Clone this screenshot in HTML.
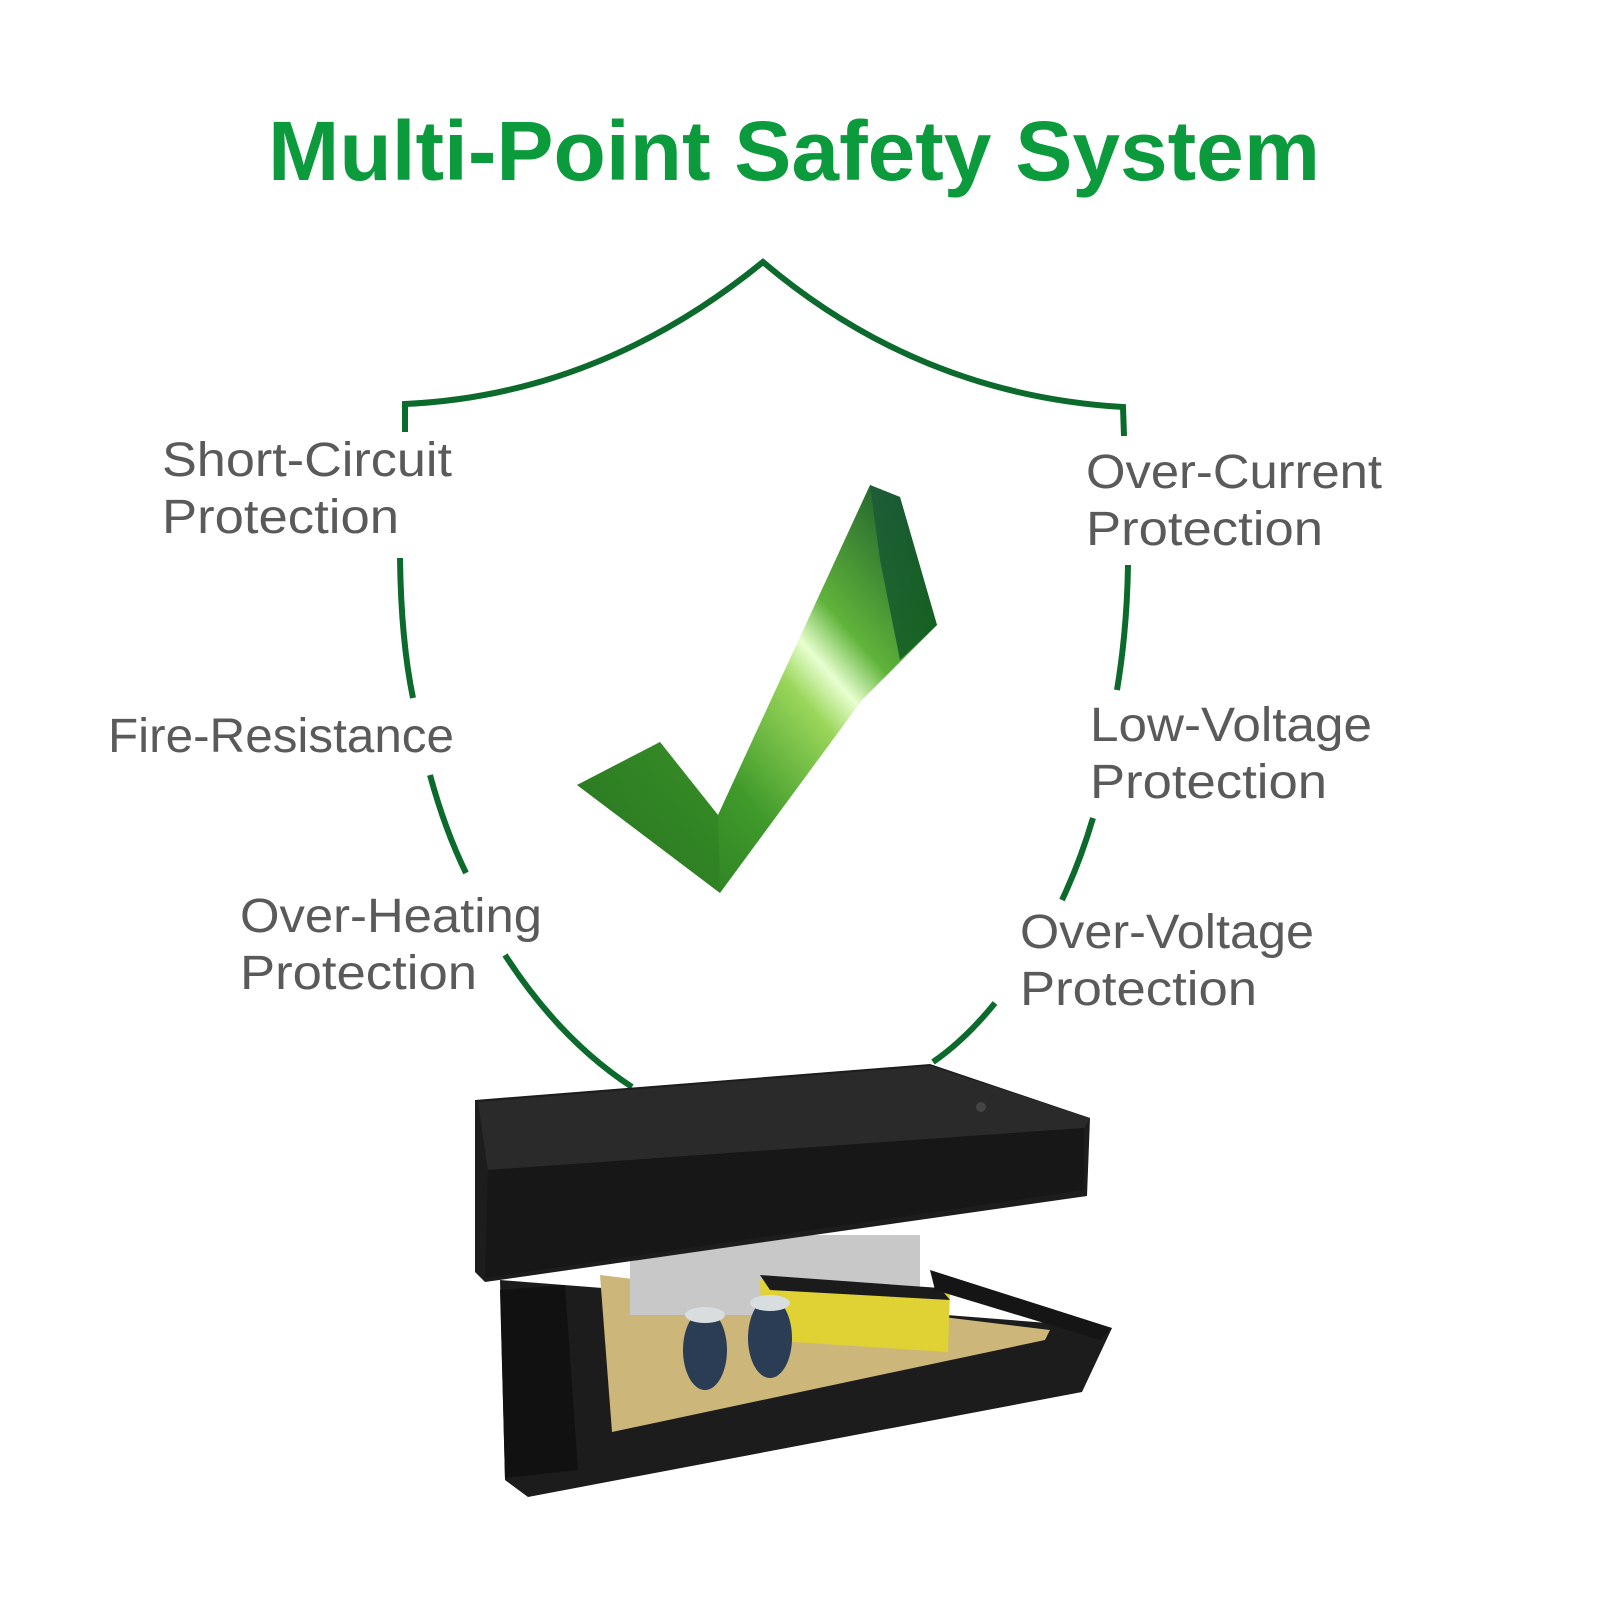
<!DOCTYPE html>
<html><head><meta charset="utf-8"><style>
html,body{margin:0;padding:0;background:#fff;}
svg{display:block;}
</style></head><body>
<svg width="1600" height="1600" viewBox="0 0 1600 1600" xmlns="http://www.w3.org/2000/svg">
<defs>
<linearGradient id="ck" x1="0" y1="1" x2="1" y2="0">
<stop offset="0" stop-color="#1f6b1f"/>
<stop offset="0.35" stop-color="#3f9a2a"/>
<stop offset="0.55" stop-color="#9ad65a"/>
<stop offset="0.62" stop-color="#e8ffd0"/>
<stop offset="0.7" stop-color="#5fb33a"/>
<stop offset="1" stop-color="#0e4a2a"/>
</linearGradient>
<linearGradient id="ck2" x1="0" y1="0" x2="1" y2="1">
<stop offset="0" stop-color="#1d5a3a"/>
<stop offset="1" stop-color="#0c5a1c"/>
</linearGradient>
</defs>
<text x="794" y="180" text-anchor="middle" font-family="Liberation Sans, sans-serif" font-weight="bold" font-size="84" fill="#0b9a3c" textLength="1052" lengthAdjust="spacingAndGlyphs">Multi-Point Safety System</text>

<g fill="none" stroke="#0c6b2c" stroke-width="6" stroke-linecap="butt">
<path d="M405,432 L405,404 Q600,395 763,262 Q920,395 1123,407 L1124,436"/>
<path d="M400,558 Q401,640 413,698"/>
<path d="M430,775 Q445,830 466,873"/>
<path d="M505,955 Q560,1040 632,1087"/>
<path d="M1128,565 Q1127,630 1117,690"/>
<path d="M1093,818 Q1080,862 1062,900"/>
<path d="M995,1003 Q965,1040 933,1062"/>
</g>

<g font-family="Liberation Sans, DejaVu Sans, sans-serif" font-size="48" fill="#5a5a5a">
<text x="162" y="476" textLength="290" lengthAdjust="spacingAndGlyphs">Short-Circuit</text>
<text x="162" y="533" textLength="237" lengthAdjust="spacingAndGlyphs">Protection</text>
<text x="108" y="752" textLength="346" lengthAdjust="spacingAndGlyphs">Fire-Resistance</text>
<text x="240" y="932" textLength="302" lengthAdjust="spacingAndGlyphs">Over-Heating</text>
<text x="240" y="989" textLength="237" lengthAdjust="spacingAndGlyphs">Protection</text>
<text x="1086" y="488" textLength="296" lengthAdjust="spacingAndGlyphs">Over-Current</text>
<text x="1086" y="545" textLength="237" lengthAdjust="spacingAndGlyphs">Protection</text>
<text x="1090" y="741" textLength="282" lengthAdjust="spacingAndGlyphs">Low-Voltage</text>
<text x="1090" y="798" textLength="237" lengthAdjust="spacingAndGlyphs">Protection</text>
<text x="1020" y="948" textLength="294" lengthAdjust="spacingAndGlyphs">Over-Voltage</text>
<text x="1020" y="1005" textLength="237" lengthAdjust="spacingAndGlyphs">Protection</text>
</g>

<!-- checkmark -->
<polygon points="577,785 660,742 718,815 870,485 900,497 937,625 862,700 720,893" fill="url(#ck)"/>
<polygon points="870,485 900,497 937,625 900,660 880,560" fill="url(#ck2)" opacity="0.85"/>
<polygon points="577,785 660,742 718,815 720,893" fill="#2e7d22" opacity="0.5"/>

<!-- charger lower -->
<polygon points="500,1280 1112,1328 1082,1392 528,1497 505,1480" fill="#1c1c1c"/>
<polygon points="600,1275 1050,1330 1045,1340 612,1432" fill="#cdb67a"/>
<rect x="630" y="1235" width="290" height="80" fill="#c8c8c8"/>
<polygon points="760,1280 950,1292 948,1352 762,1340" fill="#e0d234"/>
<polygon points="760,1275 940,1288 950,1300 770,1290" fill="#1b1b1b"/>
<ellipse cx="705" cy="1350" rx="22" ry="40" fill="#2a3d55"/>
<ellipse cx="705" cy="1315" rx="20" ry="8" fill="#d8dde0"/>
<ellipse cx="770" cy="1338" rx="22" ry="40" fill="#2a3d55"/>
<ellipse cx="770" cy="1303" rx="20" ry="8" fill="#d8dde0"/>
<polygon points="500,1290 565,1285 578,1470 505,1478" fill="#111"/>
<polygon points="930,1270 1112,1328 1100,1340 935,1290" fill="#151515"/>
<!-- lid -->
<polygon points="475,1100 930,1064 1090,1118 1087,1196 485,1282 475,1272" fill="#1d1d1d"/>
<polygon points="478,1102 930,1066 1090,1118 1084,1128 488,1170" fill="#2a2a2a"/>
<polygon points="488,1170 1084,1128 1084,1190 485,1278" fill="#171717"/>
<circle cx="981" cy="1107" r="5" fill="#444"/>
</svg>
</body></html>
